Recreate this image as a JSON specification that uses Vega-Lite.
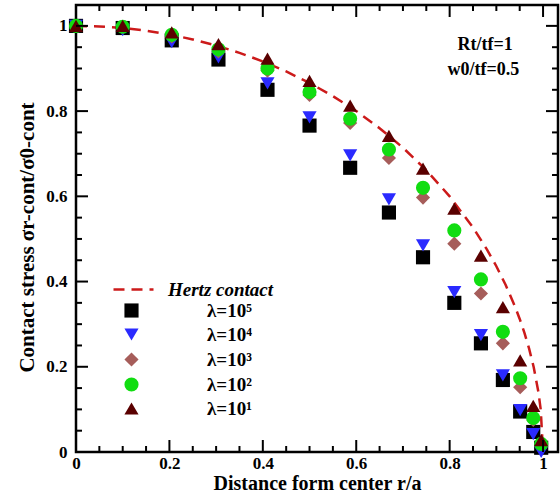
{
  "$schema": "https://vega.github.io/schema/vega-lite/v6.json",
  "width": 482,
  "height": 447,
  "autosize": {"type": "none"},
  "padding": {"left": 76, "top": 5, "right": 2, "bottom": 45},
  "background": "white",
  "config": {
    "view": {"stroke": "black", "strokeWidth": 2.5},
    "axis": {"domain": false, "grid": false, "tickColor": "black", "tickWidth": 2}
  },
  "datasets": {
    "major": [{"v": 0}, {"v": 0.2}, {"v": 0.4}, {"v": 0.6}, {"v": 0.8}, {"v": 1}],
    "minor": [{"v": 0.05}, {"v": 0.1}, {"v": 0.15}, {"v": 0.25}, {"v": 0.3}, {"v": 0.35}, {"v": 0.45}, {"v": 0.5}, {"v": 0.55}, {"v": 0.65}, {"v": 0.7}, {"v": 0.75}, {"v": 0.85}, {"v": 0.9}, {"v": 0.95}],
    "hertz": [
      {"r": 0, "s": 1, "curve": "Hertz contact"},
      {"r": 0.05, "s": 0.99875, "curve": "Hertz contact"},
      {"r": 0.1, "s": 0.99499, "curve": "Hertz contact"},
      {"r": 0.15, "s": 0.98869, "curve": "Hertz contact"},
      {"r": 0.2, "s": 0.9798, "curve": "Hertz contact"},
      {"r": 0.25, "s": 0.96825, "curve": "Hertz contact"},
      {"r": 0.3, "s": 0.95394, "curve": "Hertz contact"},
      {"r": 0.35, "s": 0.93675, "curve": "Hertz contact"},
      {"r": 0.4, "s": 0.91652, "curve": "Hertz contact"},
      {"r": 0.45, "s": 0.89303, "curve": "Hertz contact"},
      {"r": 0.5, "s": 0.86603, "curve": "Hertz contact"},
      {"r": 0.55, "s": 0.83516, "curve": "Hertz contact"},
      {"r": 0.6, "s": 0.8, "curve": "Hertz contact"},
      {"r": 0.65, "s": 0.75993, "curve": "Hertz contact"},
      {"r": 0.7, "s": 0.71414, "curve": "Hertz contact"},
      {"r": 0.75, "s": 0.66144, "curve": "Hertz contact"},
      {"r": 0.8, "s": 0.6, "curve": "Hertz contact"},
      {"r": 0.85, "s": 0.52678, "curve": "Hertz contact"},
      {"r": 0.88, "s": 0.47497, "curve": "Hertz contact"},
      {"r": 0.9, "s": 0.43589, "curve": "Hertz contact"},
      {"r": 0.92, "s": 0.39192, "curve": "Hertz contact"},
      {"r": 0.94, "s": 0.34117, "curve": "Hertz contact"},
      {"r": 0.95, "s": 0.31225, "curve": "Hertz contact"},
      {"r": 0.96, "s": 0.28, "curve": "Hertz contact"},
      {"r": 0.97, "s": 0.2431, "curve": "Hertz contact"},
      {"r": 0.98, "s": 0.199, "curve": "Hertz contact"},
      {"r": 0.99, "s": 0.14107, "curve": "Hertz contact"},
      {"r": 0.995, "s": 0.09987, "curve": "Hertz contact"},
      {"r": 1.0, "s": 0, "curve": "Hertz contact"}
    ],
    "pts": [
      {"r": 0, "s": 1.0, "series": "λ=10⁵"},
      {"r": 0.1, "s": 0.995, "series": "λ=10⁵"},
      {"r": 0.205, "s": 0.966, "series": "λ=10⁵"},
      {"r": 0.305, "s": 0.921, "series": "λ=10⁵"},
      {"r": 0.41, "s": 0.85, "series": "λ=10⁵"},
      {"r": 0.5, "s": 0.766, "series": "λ=10⁵"},
      {"r": 0.587, "s": 0.667, "series": "λ=10⁵"},
      {"r": 0.67, "s": 0.562, "series": "λ=10⁵"},
      {"r": 0.743, "s": 0.457, "series": "λ=10⁵"},
      {"r": 0.81, "s": 0.35, "series": "λ=10⁵"},
      {"r": 0.867, "s": 0.255, "series": "λ=10⁵"},
      {"r": 0.914, "s": 0.169, "series": "λ=10⁵"},
      {"r": 0.951, "s": 0.095, "series": "λ=10⁵"},
      {"r": 0.979, "s": 0.047, "series": "λ=10⁵"},
      {"r": 0.996, "s": 0.01, "series": "λ=10⁵"},
      {"r": 0, "s": 1.0, "series": "λ=10⁴"},
      {"r": 0.1, "s": 0.99, "series": "λ=10⁴"},
      {"r": 0.205, "s": 0.962, "series": "λ=10⁴"},
      {"r": 0.305, "s": 0.926, "series": "λ=10⁴"},
      {"r": 0.41, "s": 0.865, "series": "λ=10⁴"},
      {"r": 0.5, "s": 0.785, "series": "λ=10⁴"},
      {"r": 0.587, "s": 0.696, "series": "λ=10⁴"},
      {"r": 0.67, "s": 0.593, "series": "λ=10⁴"},
      {"r": 0.743, "s": 0.485, "series": "λ=10⁴"},
      {"r": 0.81, "s": 0.375, "series": "λ=10⁴"},
      {"r": 0.867, "s": 0.274, "series": "λ=10⁴"},
      {"r": 0.914, "s": 0.18, "series": "λ=10⁴"},
      {"r": 0.951, "s": 0.098, "series": "λ=10⁴"},
      {"r": 0.979, "s": 0.042, "series": "λ=10⁴"},
      {"r": 0.996, "s": 0.0, "series": "λ=10⁴"},
      {"r": 0, "s": 1.0, "series": "λ=10³"},
      {"r": 0.1, "s": 0.997, "series": "λ=10³"},
      {"r": 0.205, "s": 0.975, "series": "λ=10³"},
      {"r": 0.305, "s": 0.94, "series": "λ=10³"},
      {"r": 0.41, "s": 0.895, "series": "λ=10³"},
      {"r": 0.5, "s": 0.838, "series": "λ=10³"},
      {"r": 0.587, "s": 0.772, "series": "λ=10³"},
      {"r": 0.67, "s": 0.69, "series": "λ=10³"},
      {"r": 0.743, "s": 0.597, "series": "λ=10³"},
      {"r": 0.81, "s": 0.489, "series": "λ=10³"},
      {"r": 0.867, "s": 0.372, "series": "λ=10³"},
      {"r": 0.914, "s": 0.255, "series": "λ=10³"},
      {"r": 0.951, "s": 0.152, "series": "λ=10³"},
      {"r": 0.979, "s": 0.075, "series": "λ=10³"},
      {"r": 0.996, "s": 0.02, "series": "λ=10³"},
      {"r": 0, "s": 1.0, "series": "λ=10²"},
      {"r": 0.1, "s": 0.998, "series": "λ=10²"},
      {"r": 0.205, "s": 0.979, "series": "λ=10²"},
      {"r": 0.305, "s": 0.945, "series": "λ=10²"},
      {"r": 0.41, "s": 0.9, "series": "λ=10²"},
      {"r": 0.5, "s": 0.845, "series": "λ=10²"},
      {"r": 0.587, "s": 0.782, "series": "λ=10²"},
      {"r": 0.67, "s": 0.71, "series": "λ=10²"},
      {"r": 0.743, "s": 0.62, "series": "λ=10²"},
      {"r": 0.81, "s": 0.52, "series": "λ=10²"},
      {"r": 0.867, "s": 0.405, "series": "λ=10²"},
      {"r": 0.914, "s": 0.282, "series": "λ=10²"},
      {"r": 0.951, "s": 0.173, "series": "λ=10²"},
      {"r": 0.979, "s": 0.08, "series": "λ=10²"},
      {"r": 0.996, "s": 0.019, "series": "λ=10²"},
      {"r": 0, "s": 1.0, "series": "λ=10¹"},
      {"r": 0.1, "s": 1.0, "series": "λ=10¹"},
      {"r": 0.205, "s": 0.985, "series": "λ=10¹"},
      {"r": 0.305, "s": 0.957, "series": "λ=10¹"},
      {"r": 0.41, "s": 0.923, "series": "λ=10¹"},
      {"r": 0.5, "s": 0.871, "series": "λ=10¹"},
      {"r": 0.587, "s": 0.813, "series": "λ=10¹"},
      {"r": 0.67, "s": 0.742, "series": "λ=10¹"},
      {"r": 0.743, "s": 0.665, "series": "λ=10¹"},
      {"r": 0.81, "s": 0.571, "series": "λ=10¹"},
      {"r": 0.867, "s": 0.461, "series": "λ=10¹"},
      {"r": 0.914, "s": 0.34, "series": "λ=10¹"},
      {"r": 0.951, "s": 0.215, "series": "λ=10¹"},
      {"r": 0.979, "s": 0.108, "series": "λ=10¹"},
      {"r": 0.996, "s": 0.028, "series": "λ=10¹"}
    ]
  },
  "layer": [
    {
      "data": {"name": "hertz"},
      "mark": {"type": "line", "color": "#cc1a1a", "strokeWidth": 2.5},
      "encoding": {
        "x": {
          "field": "r", "type": "quantitative",
          "scale": {"domain": [0, 1.032], "nice": false},
          "axis": {
            "orient": "bottom",
            "values": [0, 0.2, 0.4, 0.6, 0.8, 1],
            "format": "~g",
            "ticks": false,
            "labelFont": "Liberation Serif", "labelFontWeight": "bold", "labelFontSize": 17, "labelColor": "black",
            "labelFlush": false, "labelOverlap": false,
            "labelPadding": 3,
            "title": "Distance form center r/a",
            "titleFont": "Liberation Serif", "titleFontWeight": "bold", "titleFontSize": 20, "titleColor": "black",
            "titlePadding": 2
          }
        },
        "y": {
          "field": "s", "type": "quantitative",
          "scale": {"domain": [0, 1.049], "nice": false},
          "axis": {
            "orient": "left",
            "values": [0, 0.2, 0.4, 0.6, 0.8, 1],
            "format": "~g",
            "ticks": false,
            "labelFont": "Liberation Serif", "labelFontWeight": "bold", "labelFontSize": 17, "labelColor": "black",
            "labelFlush": false, "labelOverlap": false,
            "labelPadding": 9,
            "title": "Contact stress σr-cont/σ0-cont",
            "titleFont": "Liberation Serif", "titleFontWeight": "bold", "titleFontSize": 21, "titleColor": "black",
            "titlePadding": 8,
            "titleY": 232
          }
        },
        "strokeDash": {
          "field": "curve", "type": "nominal",
          "scale": {"range": [[11, 7]]},
          "legend": {
            "orient": "none", "legendX": 36, "legendY": 263, "title": null, "padding": 0,
            "symbolType": "stroke", "symbolSize": 1600,
            "symbolStrokeColor": "#cc1a1a", "symbolStrokeWidth": 2.5,
            "labelFont": "Liberation Serif", "labelFontWeight": "bold", "labelFontSize": 19, "labelColor": "black",
            "labelFontStyle": "italic", "labelOffset": 13
          }
        }
      }
    },
    {
      "data": {"name": "pts"},
      "mark": {"type": "point", "filled": true, "opacity": 1, "size": 200},
      "encoding": {
        "x": {"field": "r", "type": "quantitative", "axis": null},
        "y": {"field": "s", "type": "quantitative", "axis": null},
        "color": {
          "field": "series", "type": "nominal",
          "scale": {
            "domain": ["λ=10⁵", "λ=10⁴", "λ=10³", "λ=10²", "λ=10¹"],
            "range": ["#000000", "#2a2aff", "#a65d5a", "#11dd11", "#5a0000"]
          },
          "legend": {
            "orient": "none", "legendX": 46, "legendY": 296, "title": null, "padding": 0,
            "rowPadding": 4, "symbolSize": 200, "symbolOpacity": 1, "labelOffset": 66,
            "labelFont": "Liberation Serif", "labelFontWeight": "bold", "labelFontSize": 19, "labelColor": "black"
          }
        },
        "shape": {
          "field": "series", "type": "nominal",
          "scale": {
            "domain": ["λ=10⁵", "λ=10⁴", "λ=10³", "λ=10²", "λ=10¹"],
            "range": ["square", "triangle-down", "diamond", "circle", "triangle-up"]
          }
        }
      }
    },
    {
      "data": {"name": "major"},
      "mark": {"type": "rule", "color": "black", "strokeWidth": 2},
      "encoding": {
        "x": {"field": "v", "type": "quantitative", "axis": null},
        "y": {"datum": 0, "type": "quantitative", "axis": null},
        "y2": {"datum": 0.0282}
      }
    },
    {
      "data": {"name": "major"},
      "mark": {"type": "rule", "color": "black", "strokeWidth": 2},
      "encoding": {
        "x": {"field": "v", "type": "quantitative", "axis": null},
        "y": {"datum": 1.049, "type": "quantitative", "axis": null},
        "y2": {"datum": 1.0208}
      }
    },
    {
      "data": {"name": "minor"},
      "mark": {"type": "rule", "color": "black", "strokeWidth": 2},
      "encoding": {
        "x": {"field": "v", "type": "quantitative", "axis": null},
        "y": {"datum": 0, "type": "quantitative", "axis": null},
        "y2": {"datum": 0.0141}
      }
    },
    {
      "data": {"name": "minor"},
      "mark": {"type": "rule", "color": "black", "strokeWidth": 2},
      "encoding": {
        "x": {"field": "v", "type": "quantitative", "axis": null},
        "y": {"datum": 1.049, "type": "quantitative", "axis": null},
        "y2": {"datum": 1.0349}
      }
    },
    {
      "data": {"name": "major"},
      "mark": {"type": "rule", "color": "black", "strokeWidth": 2},
      "encoding": {
        "y": {"field": "v", "type": "quantitative", "axis": null},
        "x": {"datum": 0, "type": "quantitative", "axis": null},
        "x2": {"datum": 0.0257}
      }
    },
    {
      "data": {"name": "major"},
      "mark": {"type": "rule", "color": "black", "strokeWidth": 2},
      "encoding": {
        "y": {"field": "v", "type": "quantitative", "axis": null},
        "x": {"datum": 1.032, "type": "quantitative", "axis": null},
        "x2": {"datum": 1.0063}
      }
    },
    {
      "data": {"name": "minor"},
      "mark": {"type": "rule", "color": "black", "strokeWidth": 2},
      "encoding": {
        "y": {"field": "v", "type": "quantitative", "axis": null},
        "x": {"datum": 0, "type": "quantitative", "axis": null},
        "x2": {"datum": 0.0128}
      }
    },
    {
      "data": {"name": "minor"},
      "mark": {"type": "rule", "color": "black", "strokeWidth": 2},
      "encoding": {
        "y": {"field": "v", "type": "quantitative", "axis": null},
        "x": {"datum": 1.032, "type": "quantitative", "axis": null},
        "x2": {"datum": 1.0192}
      }
    },
    {
      "data": {"values": [{}]},
      "mark": {"type": "text", "text": "Rt/tf=1", "font": "Liberation Serif", "fontWeight": "bold", "fontSize": 18, "color": "black"},
      "encoding": {
        "x": {"datum": 0.876, "type": "quantitative", "axis": null},
        "y": {"datum": 0.955, "type": "quantitative", "axis": null}
      }
    },
    {
      "data": {"values": [{}]},
      "mark": {"type": "text", "text": "w0/tf=0.5", "font": "Liberation Serif", "fontWeight": "bold", "fontSize": 18, "color": "black"},
      "encoding": {
        "x": {"datum": 0.872, "type": "quantitative", "axis": null},
        "y": {"datum": 0.896, "type": "quantitative", "axis": null}
      }
    }
  ],
  "resolve": {"axis": {"x": "independent", "y": "independent"}}
}
